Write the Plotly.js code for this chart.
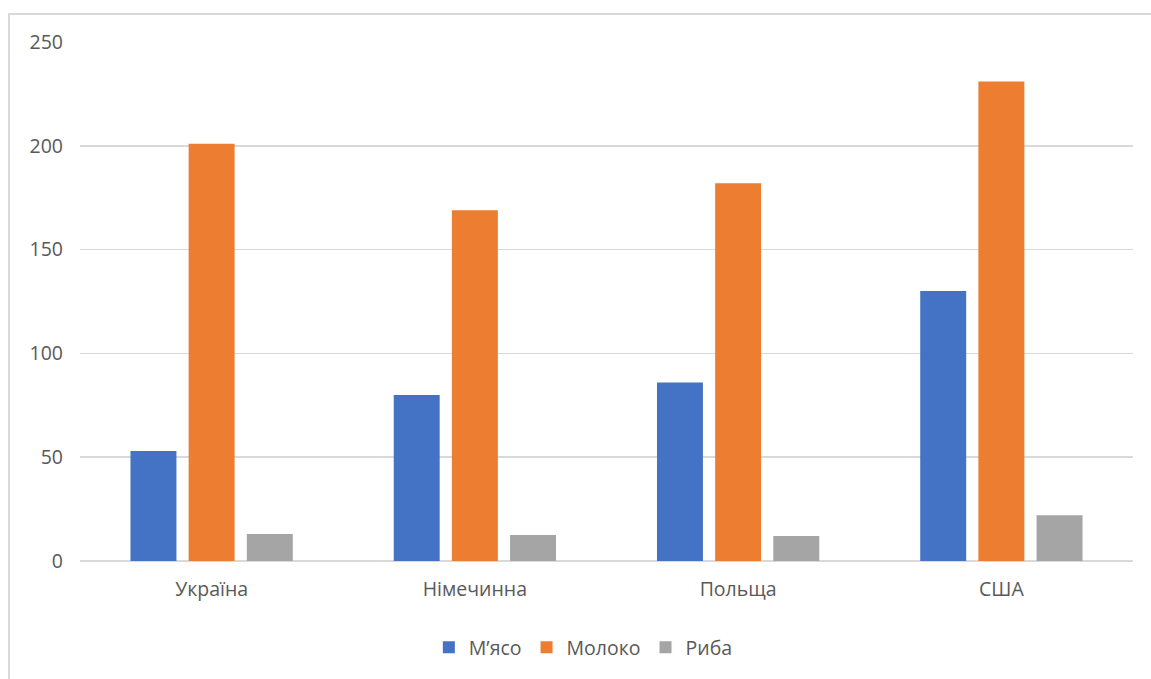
<!DOCTYPE html>
<html>
<head>
<meta charset="utf-8">
<script src="https://cdn.plot.ly/plotly-3.0.1.min.js"></script>
<style>
  html, body { margin: 0; padding: 0; background: #fff; }
  #wrap { position: relative; width: 1151px; height: 679px; }
  #chart { position: absolute; left: 0; top: 0; width: 1151px; height: 679px; }
  #frame { position: absolute; left: 8px; top: 13px; right: -2px; bottom: -2px;
           border-top: 2px solid #d9d9d9; border-left: 2px solid #d9d9d9; pointer-events: none; }
</style>
</head>
<body>
<div id="wrap">
  <div id="chart"></div>
  <div id="frame"></div>
</div>
<script>
const categories = ["Україна", "Німечинна", "Польща", "США"];
const seriesNames = ["М’ясо", "Молоко", "Риба"];
const meat = [53, 80, 86, 130];
const milk = [201, 169, 182, 231];
const fish = [13, 12.5, 12, 22];
const yTicks = [0, 50, 100, 150, 200, 250];

const colors = ["#4472C4", "#ED7D31", "#A5A5A5"];
const values = [meat, milk, fish];

const traces = values.map((v, i) => ({
  type: "bar",
  name: seriesNames[i],
  x: categories,
  y: v,
  marker: { color: colors[i] },
  hoverinfo: "none"
}));

const font = { family: "'Open Sans', 'Noto Sans', sans-serif", size: 19.5, color: "#595959" };

const layout = {
  width: 1151,
  height: 679,
  margin: { l: 80, r: 18, t: 42, b: 118, pad: 0 },
  paper_bgcolor: "#fff",
  plot_bgcolor: "#fff",
  font: font,
  barmode: "group",
  bargap: 0.337,
  bargroupgap: 0.21,
  showlegend: true,
  legend: {
    orientation: "h",
    x: 0.478, xanchor: "center",
    y: -0.167, yanchor: "middle",
    font: font,
    itemwidth: 30,
    traceorder: "normal"
  },
  xaxis: {
    type: "category",
    showgrid: false,
    showline: false,
    ticks: "",
    tickfont: font,
    ticklabelstandoff: 14
  },
  yaxis: {
    range: [0, 250],
    tickvals: yTicks,
    ticktext: yTicks.map(String),
    showgrid: true,
    gridcolor: "#d9d9d9",
    gridwidth: 1.5,
    zeroline: true,
    zerolinecolor: "#d9d9d9",
    zerolinewidth: 1.5,
    showline: false,
    ticks: "",
    tickfont: font,
    ticklabelstandoff: 16
  }
};

Plotly.newPlot("chart", traces, layout, { displayModeBar: false, staticPlot: true });
</script>
</body>
</html>
